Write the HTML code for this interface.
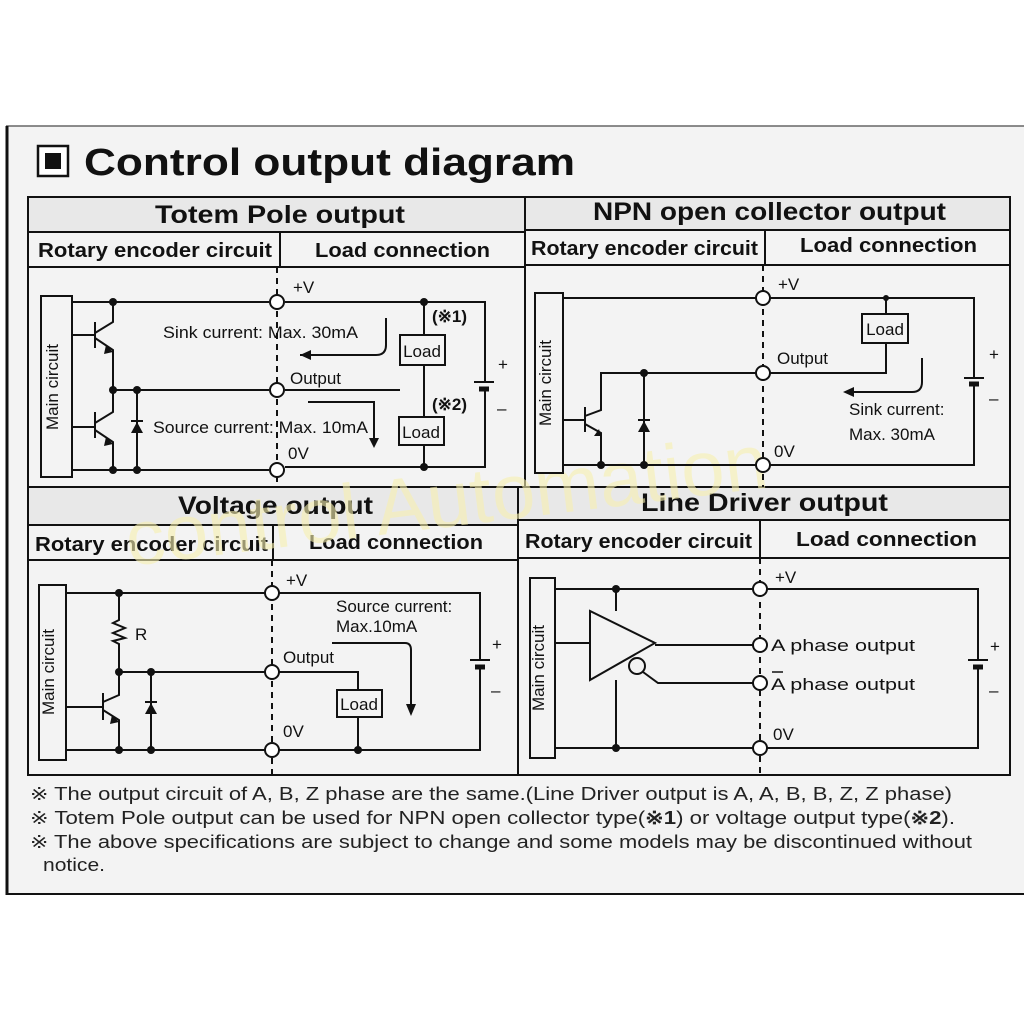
<!DOCTYPE html>
<html><head><meta charset="utf-8"><style>
html,body{margin:0;padding:0;background:#fff;}
svg{display:block;}
text{font-family:"Liberation Sans",sans-serif;fill:#111;}
.h{font-weight:bold;font-size:25px;}
.s{font-weight:bold;font-size:20px;}
.l{font-size:17px;}
.f{font-size:18px;fill:#222;}
</style></head><body>
<svg width="1024" height="1024" viewBox="0 0 1024 1024" xmlns="http://www.w3.org/2000/svg">
<rect x="0" y="0" width="1024" height="1024" fill="#fff"/>
<rect x="6" y="126" width="1018" height="768" fill="#f3f3f3"/>
<line x1="6" y1="126" x2="1024" y2="126" stroke="#666" stroke-width="1.5"/>
<line x1="7" y1="126" x2="7" y2="895" stroke="#111" stroke-width="3"/>
<line x1="6" y1="894" x2="1024" y2="894" stroke="#111" stroke-width="2"/>

<rect x="38" y="146" width="30" height="30" fill="#fff" stroke="#111" stroke-width="2.5"/>
<rect x="45" y="153" width="16" height="16" fill="#111"/>
<text x="84" y="175" style="font-weight:bold;font-size:38px" textLength="491" lengthAdjust="spacingAndGlyphs">Control output diagram</text>

<g stroke="#111" stroke-width="2" fill="none">
<rect x="28" y="197" width="982" height="578"/>
<line x1="525" y1="197" x2="525" y2="487"/>
<line x1="518" y1="487" x2="518" y2="775"/>
<line x1="28" y1="232" x2="525" y2="232"/><line x1="525" y1="230" x2="1010" y2="230"/>
<line x1="28" y1="267" x2="525" y2="267"/><line x1="525" y1="265" x2="1010" y2="265"/>
<line x1="28" y1="487" x2="1010" y2="487"/>
<line x1="28" y1="525" x2="518" y2="525"/><line x1="518" y1="520" x2="1010" y2="520"/>
<line x1="28" y1="560" x2="518" y2="560"/><line x1="518" y1="558" x2="1010" y2="558"/>
<line x1="280" y1="232" x2="280" y2="267"/>
<line x1="765" y1="230" x2="765" y2="265"/>
<line x1="273" y1="525" x2="273" y2="560"/>
<line x1="760" y1="520" x2="760" y2="558"/>
</g>
<rect x="29" y="198" width="495" height="33" fill="#e8e8e8"/>
<rect x="526" y="198" width="483" height="31" fill="#e8e8e8"/>
<rect x="29" y="488" width="488" height="36" fill="#e8e8e8"/>
<rect x="519" y="488" width="490" height="31" fill="#e8e8e8"/>

<text x="155" y="223" class="h" textLength="250" lengthAdjust="spacingAndGlyphs">Totem Pole output</text>
<text x="593" y="220" class="h" textLength="353" lengthAdjust="spacingAndGlyphs">NPN open collector output</text>
<text x="178" y="514" class="h" textLength="195" lengthAdjust="spacingAndGlyphs">Voltage output</text>
<text x="641" y="511" class="h" textLength="247" lengthAdjust="spacingAndGlyphs">Line Driver output</text>
<text x="38" y="257" class="s" textLength="234" lengthAdjust="spacingAndGlyphs">Rotary encoder circuit</text>
<text x="315" y="257" class="s" textLength="175" lengthAdjust="spacingAndGlyphs">Load connection</text>
<text x="531" y="255" class="s" textLength="227" lengthAdjust="spacingAndGlyphs">Rotary encoder circuit</text>
<text x="800" y="252" class="s" textLength="177" lengthAdjust="spacingAndGlyphs">Load connection</text>
<text x="35" y="551" class="s" textLength="233" lengthAdjust="spacingAndGlyphs">Rotary encoder circuit</text>
<text x="309" y="549" class="s" textLength="174" lengthAdjust="spacingAndGlyphs">Load connection</text>
<text x="525" y="548" class="s" textLength="227" lengthAdjust="spacingAndGlyphs">Rotary encoder circuit</text>
<text x="796" y="546" class="s" textLength="181" lengthAdjust="spacingAndGlyphs">Load connection</text>

<text x="120" y="520" transform="rotate(-7 500 470)" style="font-size:78px;fill:#f7f0b0;opacity:0.6">control Automation</text>

<g stroke="#111" stroke-width="2" fill="none">
<line x1="277" y1="267" x2="277" y2="487" stroke-dasharray="6,5"/>
<line x1="763" y1="265" x2="763" y2="487" stroke-dasharray="6,5"/>
<line x1="272" y1="560" x2="272" y2="775" stroke-dasharray="6,5"/>
<line x1="760" y1="558" x2="760" y2="775" stroke-dasharray="6,5"/>

<rect x="41" y="296" width="31" height="181" fill="#f3f3f3"/>
<path d="M72 302H269M285 302H485V382M485 390V467H285M269 470H72"/>
<path d="M113 302V322L95 333M95 322V348M72 335H95M95 338L113 350V390"/>
<path d="M113 390V412L95 423M95 412V438M72 427H95M95 430L113 442V470"/>
<path d="M113 390H269M285 390H400"/>
<path d="M137 390V470"/>
<path d="M424 302V335M424 365V417M424 445V467"/>
<rect x="400" y="335" width="45" height="30" fill="#f3f3f3"/>
<rect x="399" y="417" width="45" height="28" fill="#f3f3f3"/>
<line x1="474" y1="382" x2="494" y2="382"/>
<line x1="479" y1="389" x2="489" y2="389" stroke-width="5"/>
<path d="M386 318V345Q386 355 376 355H300"/>
<path d="M308 402H374V443"/>
<circle cx="277" cy="302" r="7" fill="#fff"/>
<circle cx="277" cy="390" r="7" fill="#fff"/>
<circle cx="277" cy="470" r="7" fill="#fff"/>

<rect x="535" y="293" width="28" height="180" fill="#f3f3f3"/>
<path d="M563 298H756M770 298H974V378M974 385V465H770M756 465H563"/>
<path d="M886 298V314M886 343V373H770M756 373H601V410L585 416M585 407V432M563 420H585M585 424L601 433V465"/>
<path d="M644 373V465"/>
<rect x="862" y="314" width="46" height="29" fill="#f3f3f3"/>
<line x1="964" y1="378" x2="984" y2="378"/>
<line x1="969" y1="384" x2="979" y2="384" stroke-width="5"/>
<path d="M922 358V382Q922 392 912 392H850"/>
<circle cx="763" cy="298" r="7" fill="#fff"/>
<circle cx="763" cy="373" r="7" fill="#fff"/>
<circle cx="763" cy="465" r="7" fill="#fff"/>

<rect x="39" y="585" width="27" height="175" fill="#f3f3f3"/>
<path d="M66 593H265M279 593H480V660M480 668V750H279M265 750H66"/>
<path d="M119 593V620L113 623L125 628L113 633L125 638L113 641L119 644V672"/>
<path d="M119 672H265M279 672H358V690M358 717V750"/>
<path d="M119 672V695L103 702M103 693V720M66 707H103M103 710L119 720V750"/>
<path d="M151 672V750"/>
<rect x="337" y="690" width="45" height="27" fill="#f3f3f3"/>
<line x1="470" y1="660" x2="490" y2="660"/>
<line x1="475" y1="667" x2="485" y2="667" stroke-width="5"/>
<path d="M332 643H405Q411 643 411 650V708"/>
<circle cx="272" cy="593" r="7" fill="#fff"/>
<circle cx="272" cy="672" r="7" fill="#fff"/>
<circle cx="272" cy="750" r="7" fill="#fff"/>

<rect x="530" y="578" width="25" height="180" fill="#f3f3f3"/>
<path d="M555 589H753M767 589H978V660M978 667V748H767M753 748H555"/>
<path d="M616 589V611M616 680V748"/>
<path d="M555 643H590"/>
<path d="M590 611V680L655 643Z" fill="#f3f3f3"/>
<path d="M655 645H753"/>
<circle cx="637" cy="666" r="8" fill="#f3f3f3"/>
<path d="M643 672L658 683H753"/>
<line x1="968" y1="660" x2="988" y2="660"/>
<line x1="973" y1="667" x2="983" y2="667" stroke-width="5"/>
<circle cx="760" cy="589" r="7" fill="#fff"/>
<circle cx="760" cy="645" r="7" fill="#fff"/>
<circle cx="760" cy="683" r="7" fill="#fff"/>
<circle cx="760" cy="748" r="7" fill="#fff"/>
</g>

<g fill="#111">
<circle cx="113" cy="302" r="4"/><circle cx="113" cy="390" r="4"/><circle cx="137" cy="390" r="4"/>
<circle cx="113" cy="470" r="4"/><circle cx="137" cy="470" r="4"/><circle cx="424" cy="302" r="4"/><circle cx="424" cy="467" r="4"/>
<path d="M106 345L113 352L104 354Z"/><path d="M106 437L113 444L104 446Z"/>
<path d="M131 433H143L137 422Z"/><rect x="131" y="420" width="12" height="2"/>
<path d="M300 355L311 350V360Z"/><path d="M374 448L369 438H379Z"/>
<circle cx="644" cy="373" r="4"/><circle cx="601" cy="465" r="4"/><circle cx="644" cy="465" r="4"/><circle cx="886" cy="298" r="3"/>
<path d="M601 436L594 436L599 429Z"/><path d="M638 432H650L644 421Z"/><rect x="638" y="419" width="12" height="2"/>
<path d="M843 392L854 387V397Z"/>
<circle cx="119" cy="593" r="4"/><circle cx="119" cy="672" r="4"/><circle cx="151" cy="672" r="4"/>
<circle cx="119" cy="750" r="4"/><circle cx="151" cy="750" r="4"/><circle cx="358" cy="750" r="4"/>
<path d="M112 715L119 722L110 724Z"/><path d="M145 714H157L151 703Z"/><rect x="145" y="701" width="12" height="2"/>
<path d="M411 716L406 704H416Z"/>
<circle cx="616" cy="589" r="4"/><circle cx="616" cy="748" r="4"/>
</g>

<g class="l">
<text x="293" y="293" class="l">+V</text>
<text x="163" y="338" class="l" textLength="195" lengthAdjust="spacingAndGlyphs">Sink current: Max. 30mA</text>
<text x="290" y="384" class="l">Output</text>
<text x="153" y="433" class="l" textLength="215" lengthAdjust="spacingAndGlyphs">Source current: Max. 10mA</text>
<text x="288" y="459" class="l">0V</text>
<text x="422" y="357" class="l" text-anchor="middle">Load</text>
<text x="421" y="438" class="l" text-anchor="middle">Load</text>
<text x="432" y="322" class="l" style="font-weight:bold">(※1)</text>
<text x="432" y="410" class="l" style="font-weight:bold">(※2)</text>
<text x="498" y="370" class="l">+</text><text x="497" y="414" class="l">–</text>

<text x="778" y="290" class="l">+V</text>
<text x="777" y="364" class="l">Output</text>
<text x="774" y="457" class="l">0V</text>
<text x="885" y="335" class="l" text-anchor="middle">Load</text>
<text x="849" y="415" class="l">Sink current:</text>
<text x="849" y="440" class="l">Max. 30mA</text>
<text x="989" y="360" class="l">+</text><text x="989" y="404" class="l">–</text>

<text x="286" y="586" class="l">+V</text>
<text x="135" y="640" class="l">R</text>
<text x="283" y="663" class="l">Output</text>
<text x="283" y="737" class="l">0V</text>
<text x="359" y="710" class="l" text-anchor="middle">Load</text>
<text x="336" y="612" class="l">Source current:</text>
<text x="336" y="632" class="l">Max.10mA</text>
<text x="492" y="650" class="l">+</text><text x="491" y="696" class="l">–</text>

<text x="775" y="583" class="l">+V</text>
<text x="771" y="651" class="l" textLength="144" lengthAdjust="spacingAndGlyphs">A phase output</text>
<text x="771" y="690" class="l" textLength="144" lengthAdjust="spacingAndGlyphs">A phase output</text>
<line x1="772" y1="672" x2="783" y2="672" stroke="#111" stroke-width="1.5"/>
<text x="773" y="740" class="l">0V</text>
<text x="990" y="652" class="l">+</text><text x="989" y="696" class="l">–</text>
</g>
<text x="58" y="387" class="l" transform="rotate(-90 58 387)" text-anchor="middle">Main circuit</text>
<text x="551" y="383" class="l" transform="rotate(-90 551 383)" text-anchor="middle">Main circuit</text>
<text x="54" y="672" class="l" transform="rotate(-90 54 672)" text-anchor="middle">Main circuit</text>
<text x="544" y="668" class="l" transform="rotate(-90 544 668)" text-anchor="middle">Main circuit</text>

<text x="30" y="800" class="f" textLength="922" lengthAdjust="spacingAndGlyphs">※ The output circuit of A, B, Z phase are the same.(Line Driver output is A, A, B, B, Z, Z phase)</text>
<text x="30" y="824" class="f" textLength="925" lengthAdjust="spacingAndGlyphs">※ Totem Pole output can be used for NPN open collector type(<tspan style="font-weight:bold">※1</tspan>) or voltage output type(<tspan style="font-weight:bold">※2</tspan>).</text>
<text x="30" y="848" class="f" textLength="942" lengthAdjust="spacingAndGlyphs">※ The above specifications are subject to change and some models may be discontinued without</text>
<text x="43" y="871" class="f" textLength="62" lengthAdjust="spacingAndGlyphs">notice.</text>
</svg>
</body></html>
